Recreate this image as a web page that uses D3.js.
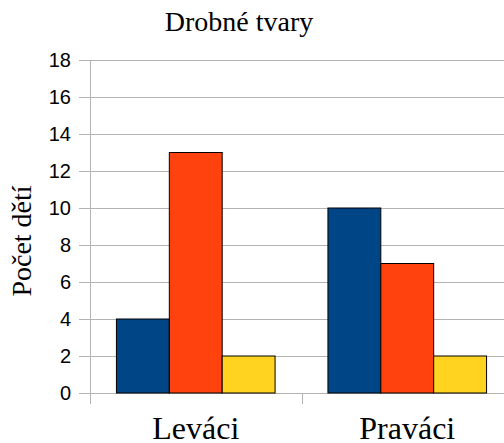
<!DOCTYPE html>
<html>
<head>
<meta charset="utf-8">
<script src="https://cdn.jsdelivr.net/npm/d3@7"></script>
<style>
  body { margin: 0; background: #fff; }
</style>
</head>
<body>
<div id="chartArea"></div>
<script>
const categories = ['Leváci', 'Praváci'];
const seriesNames = ['a', 'b', 'c'];
const seriesColors = ['#004586', '#ff420e', '#ffd320'];
const values = [
  [4, 13, 2],
  [10, 7, 2]
];
const yTicks = [0, 2, 4, 6, 8, 10, 12, 14, 16, 18];

const width = 504;
const height = 443;
// plot runs a little past the right edge of the picture
const margin = { top: 60, left: 90, bottom: 50, right: -9 };
const iwidth = width - margin.left - margin.right;
const iheight = height - margin.top - margin.bottom;

const svg = d3.select('#chartArea').append('svg')
  .attr('width', width)
  .attr('height', height);

const g = svg.append('g')
  .attr('transform', `translate(${margin.left},${margin.top})`);

const y = d3.scaleLinear().domain([0, 18]).range([iheight, 0]);
const x = d3.scaleBand().domain(categories).range([0, iwidth]);
const xs = d3.scaleBand().domain(seriesNames)
  .range([0, x.bandwidth()]).paddingOuter(0.5).paddingInner(0);

// grid
g.selectAll('line.grid').data(yTicks).enter().append('line')
  .attr('x1', -11).attr('x2', iwidth)
  .attr('y1', d => Math.round(y(d)) + 0.5).attr('y2', d => Math.round(y(d)) + 0.5)
  .attr('stroke', '#b3b3b3').attr('stroke-width', 1);

// bars
const groups = g.selectAll('g.cat').data(categories).enter().append('g')
  .attr('transform', d => `translate(${x(d)},0)`);
groups.selectAll('rect').data((d, i) => values[i]).enter().append('rect')
  .attr('x', (d, j) => xs(seriesNames[j]))
  .attr('y', d => y(d))
  .attr('width', xs.bandwidth())
  .attr('height', d => iheight - y(d))
  .attr('fill', (d, j) => seriesColors[j])
  .attr('stroke', '#000').attr('stroke-width', 1);

// y axis
const yAxis = g.append('g').call(d3.axisLeft(y).tickValues(yTicks).tickSize(11).tickPadding(8));
yAxis.select('.domain').remove();
yAxis.selectAll('.tick line').attr('stroke', '#b3b3b3');
yAxis.selectAll('.tick text')
  .attr('font-family', 'Liberation Sans, Arial, sans-serif')
  .attr('font-size', 20).attr('fill', '#000');
g.append('line').attr('x1', 0.5).attr('x2', 0.5).attr('y1', 0).attr('y2', iheight + 11)
  .attr('stroke', '#b3b3b3');

// x axis
const xAxis = g.append('g').attr('transform', `translate(0,${iheight})`)
  .call(d3.axisBottom(x).tickSize(0).tickPadding(0));
xAxis.select('.domain').remove();
xAxis.selectAll('.tick text')
  .attr('dy', null).attr('y', 46)
  .attr('font-family', 'Liberation Serif, Times New Roman, serif')
  .attr('font-size', 32).attr('fill', '#000');
g.selectAll('line.sep').data(categories.slice(1)).enter().append('line')
  .attr('x1', d => Math.round(x(d)) + 0.5).attr('x2', d => Math.round(x(d)) + 0.5)
  .attr('y1', iheight).attr('y2', iheight + 11)
  .attr('stroke', '#b3b3b3');

// title
svg.append('text').attr('x', 239).attr('y', 31)
  .attr('text-anchor', 'middle')
  .attr('font-family', 'Liberation Serif, Times New Roman, serif')
  .attr('font-size', 28).text('Drobné tvary');

// y label
svg.append('text').attr('transform', 'translate(31,241) rotate(-90)')
  .attr('text-anchor', 'middle')
  .attr('font-family', 'Liberation Serif, Times New Roman, serif')
  .attr('font-size', 28).text('Počet dětí');
</script>
</body>
</html>
